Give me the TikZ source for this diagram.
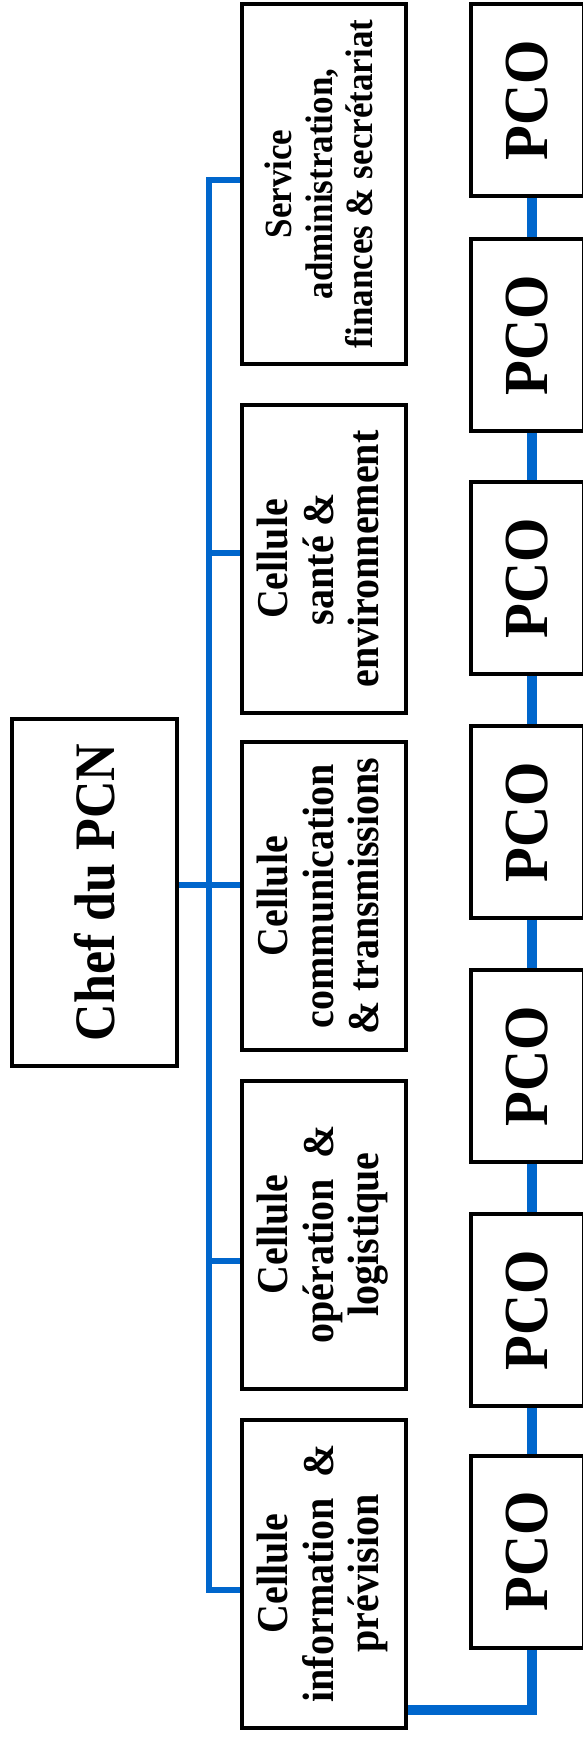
\documentclass[tikz,border=0pt]{standalone}
\usepackage{fontspec}
\setmainfont{Liberation Serif}
\usetikzlibrary{backgrounds}

\definecolor{busblue}{RGB}{0,102,204}
\newcommand{\vtext}[1]{\rotatebox{90}{\scalebox{1}[1.1]{#1}}}
\newcommand{\celltext}[1]{\vtext{\fontsize{40}{41.5}\selectfont\begin{tabular}{@{}c@{}}#1\end{tabular}}}

\tikzset{
  box/.style={draw,line width=4pt,inner sep=0pt,align=center,font=\bfseries},
  cellbox/.style={box,minimum width=164pt,minimum height=308pt},
  pcobox/.style={box,minimum width=113pt,minimum height=192pt},
  bus/.style={busblue,line width=6pt},
  chain/.style={busblue,line width=10pt}
}

\begin{document}
\begin{tikzpicture}[x=1pt,y=-1pt]
  \useasboundingbox (0,0) rectangle (582,1737);

  % Draw the chief
  \node[box,minimum width=165pt,minimum height=347pt] (chef) at (94.5,892.5)
    {\vtext{\fontsize{52}{56}\selectfont Chef du PCN}};

  % Draw the cells
  \node[cellbox,minimum height=360pt] (svc) at (324,184)
    {\vtext{\fontsize{35}{36.5}\selectfont\begin{tabular}{@{}c@{}}Service\\ administration,\\ finances \& secrétariat\end{tabular}}};
  \node[cellbox] (sante) at (324,559) {\celltext{Cellule\\ santé \&\\ environnement}};
  \node[cellbox] (comm) at (324,896) {\celltext{Cellule\\ communication\\ \& transmissions}};
  \node[cellbox] (oper) at (324,1234.5) {\celltext{Cellule\\ opération~~\&\\ logistique}};
  \node[cellbox] (info) at (324,1573.5) {\celltext{Cellule\\ information~~\&\\ prévision}};

  % Draw the PCO column
  \foreach \y [count=\i] in {100,335,578,822,1066,1310,1551.5}
    \node[pcobox] (p\i) at (527.5,\y) {\vtext{\fontsize{57}{60}\selectfont PCO}};

  % Draw the links
  \begin{scope}[on background layer]
    \coordinate (b1) at (208.5,180);
    \coordinate (b2) at (208.5,553);
    \coordinate (b3) at (208.5,885);
    \coordinate (b4) at (208.5,1261);
    \coordinate (b5) at (208.5,1590);
    \draw[bus] (b1 -| svc.west) -- (b1) -- (b5) -- (b5 -| info.west);
    \foreach \b/\n in {b2/sante,b4/oper}
      \draw[bus] (\b) -- (\b -| \n.west);
    \draw[bus] (b3 -| chef.east) -- (b3 -| comm.west);

    \foreach \i/\j in {1/2,2/3,3/4,4/5,5/6,6/7}
      \draw[chain] ([xshift=4.5pt]p\i.south) -- ([xshift=4.5pt]p\j.north);
    \draw[chain] ([yshift=20pt]info.south east) -| ([xshift=4.5pt]p7.south);
  \end{scope}
\end{tikzpicture}
\end{document}
